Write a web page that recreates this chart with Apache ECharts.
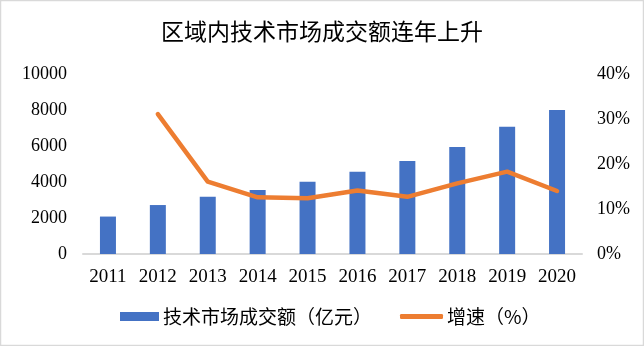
<!DOCTYPE html>
<html>
<head>
<meta charset="utf-8">
<script src="https://cdn.jsdelivr.net/npm/echarts@6/dist/echarts.min.js"></script>
<style>
  html, body { margin: 0; padding: 0; background: #fff; }
  #chart { width: 644px; height: 346px; }
</style>
</head>
<body>
<div id="chart"></div>
<script>
// Technology market turnover by year, with year-on-year growth
const years = ['2011', '2012', '2013', '2014', '2015', '2016', '2017', '2018', '2019', '2020'];
const turnover = [2080, 2720, 3180, 3560, 4020, 4570, 5170, 5940, 7070, 8000];   // 亿元
const growth = [null, 31.1, 16.1, 12.6, 12.4, 14.1, 12.7, 15.7, 18.3, 14.0];      // %
const leftTicks = [0, 2000, 4000, 6000, 8000, 10000];
const rightTicks = [0, 10, 20, 30, 40];

const titleText = '区域内技术市场成交额连年上升';
const barName = '技术市场成交额（亿元）';
const lineName = '增速（%）';

const cjk = '"Noto Sans CJK SC", "Noto Sans", sans-serif';
const serif = '"Liberation Serif", "Times New Roman", serif';

const chart = echarts.init(document.getElementById('chart'), null, { renderer: 'canvas' });

chart.setOption({
  backgroundColor: '#ffffff',
  animation: false,
  title: {
    text: titleText,
    left: 'center',
    top: 20,
    padding: 0,
    textStyle: { fontFamily: cjk, fontSize: 23, fontWeight: 'normal', color: '#000' }
  },
  graphic: [{
    type: 'rect',
    shape: { x: 0.5, y: 0.5, width: 643, height: 345 },
    style: { fill: 'none', stroke: '#d9d9d9', lineWidth: 1.5 },
    silent: true
  }],
  legend: [{
    data: [{ name: barName, icon: 'rect' }],
    left: 120,
    top: 307,
    padding: 0,
    itemWidth: 39,
    itemHeight: 9,
    itemGap: 6,
    textStyle: { fontFamily: cjk, fontSize: 19, color: '#000', padding: [0, 0, 0, -1] }
  }, {
    data: [{ name: lineName, icon: 'roundRect' }],
    left: 400,
    top: 307,
    padding: 0,
    itemWidth: 43,
    itemHeight: 5,
    textStyle: { fontFamily: cjk, fontSize: 19, color: '#000', padding: [0, 0, 0, -1] }
  }],
  grid: { left: 83, right: 62, top: 74, bottom: 92, containLabel: false },
  xAxis: {
    type: 'category',
    data: years,
    axisLine: { lineStyle: { color: '#d9d9d9', width: 2 } },
    axisTick: { show: false },
    axisLabel: { fontFamily: serif, fontSize: 19, color: '#000', margin: 14 }
  },
  yAxis: [{
    type: 'value',
    min: leftTicks[0],
    max: leftTicks[leftTicks.length - 1],
    interval: leftTicks[1] - leftTicks[0],
    splitLine: { show: false },
    axisLine: { show: false },
    axisTick: { show: false },
    axisLabel: { fontFamily: serif, fontSize: 18, color: '#000', margin: 16, formatter: v => String(v) }
  }, {
    type: 'value',
    min: rightTicks[0],
    max: rightTicks[rightTicks.length - 1],
    interval: rightTicks[1] - rightTicks[0],
    position: 'right',
    splitLine: { show: false },
    axisLine: { show: false },
    axisTick: { show: false },
    axisLabel: { fontFamily: serif, fontSize: 18, color: '#000', margin: 15, formatter: v => v + '%' }
  }],
  series: [{
    name: barName,
    type: 'bar',
    data: turnover,
    barWidth: 16,
    itemStyle: { color: '#4472C4' }
  }, {
    name: lineName,
    type: 'line',
    yAxisIndex: 1,
    data: growth,
    symbol: 'none',
    connectNulls: false,
    lineStyle: { color: '#ED7D31', width: 4.5, cap: 'round', join: 'round' },
    itemStyle: { color: '#ED7D31' }
  }]
});
</script>
</body>
</html>
